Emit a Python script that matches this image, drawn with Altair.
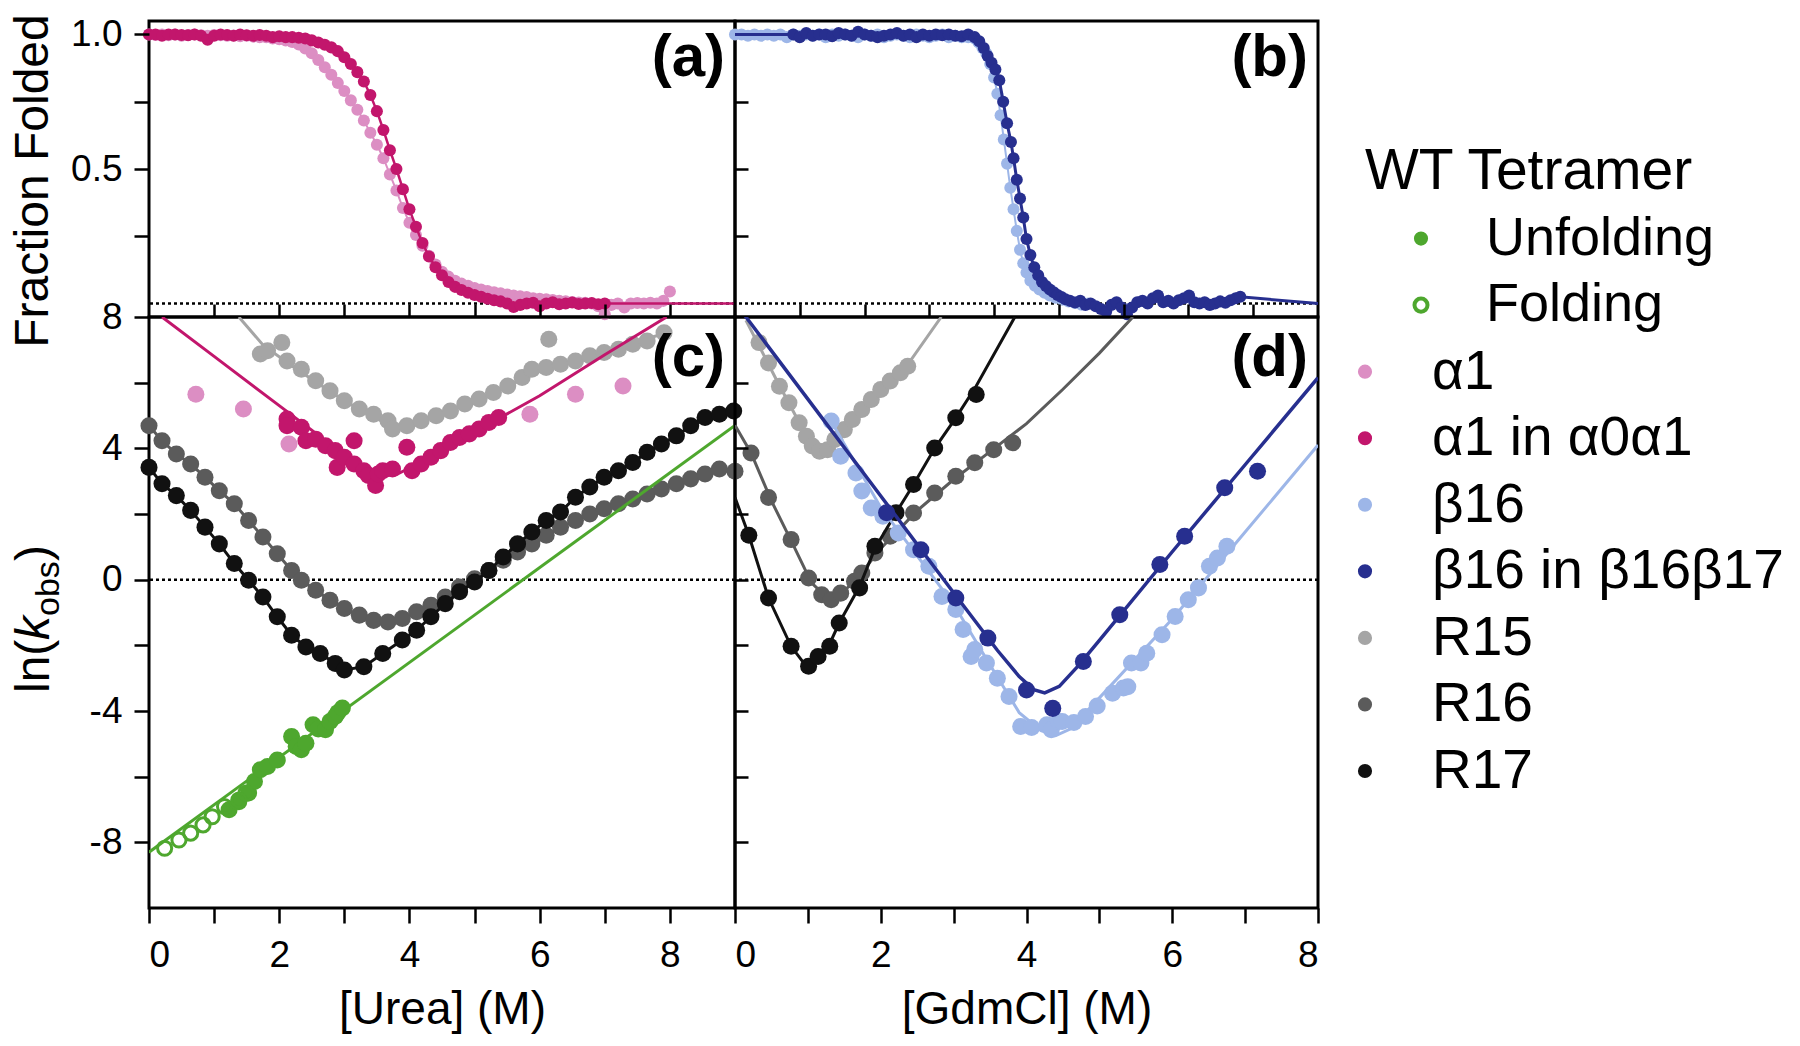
import altair as alt
import pandas as pd

FONT = "Liberation Sans"

# ---------------- colours
C_WT = "#4ea72e"
C_A1 = "#dc8ec3"
C_A1IN = "#c2166c"
C_B16 = "#9db6e8"
C_B16IN = "#272f8f"
C_R15 = "#a5a5a5"
C_R16 = "#5b5b5b"
C_R17 = "#111111"

# ---------------- panel (a): fraction folded vs [Urea]
UREA_GRID = [0.0, 0.1, 0.2, 0.3, 0.4, 0.5, 0.6, 0.7, 0.8, 0.9,
             1.0, 1.1, 1.2, 1.3, 1.4, 1.5, 1.6, 1.7, 1.8, 1.9,
             2.0, 2.1, 2.2, 2.3, 2.4, 2.5, 2.6, 2.7, 2.8, 2.9,
             3.0, 3.1, 3.2, 3.3, 3.4, 3.5, 3.6, 3.7, 3.8, 3.9,
             4.0, 4.1, 4.2, 4.3, 4.4, 4.5, 4.6, 4.7, 4.8, 4.9,
             5.0, 5.1, 5.2, 5.3, 5.4, 5.5, 5.6, 5.7, 5.8, 5.9,
             6.0, 6.1, 6.2, 6.3, 6.4, 6.5, 6.6, 6.7, 6.8, 6.9,
             7.0, 7.1, 7.2, 7.3, 7.4, 7.5, 7.6, 7.7, 7.8, 7.9,
             8.0]
A_A1IN_X = UREA_GRID[:71]
A_A1IN_Y = [1.0, 1.0, 0.995, 1.0, 1.0, 0.998, 0.997, 1.0, 0.995, 0.98,
            0.995, 1.0, 0.998, 0.995, 1.0, 0.997, 0.995, 0.998, 0.995, 0.99,
            0.993, 0.99, 0.99, 0.988, 0.985, 0.978, 0.97, 0.962, 0.952, 0.938,
            0.915, 0.89, 0.86, 0.825, 0.775, 0.715, 0.645, 0.57, 0.5, 0.425,
            0.35, 0.285, 0.225, 0.175, 0.135, 0.105, 0.08, 0.062, 0.05, 0.04,
            0.032, 0.025, 0.018, 0.012, 0.008, 0.0, -0.013, -0.005, 0.0, 0.003,
            -0.01, 0.0, 0.005, -0.003, 0.0, 0.004, -0.002, 0.0, 0.002, -0.003,
            0.0]
A_A1_X = UREA_GRID
A_A1_Y = [1.0, 0.998, 1.0, 0.997, 1.0, 0.995, 0.998, 1.0, 0.997, 0.995,
          0.998, 0.997, 0.995, 0.996, 0.993, 0.995, 0.992, 0.99, 0.99, 0.985,
          0.982, 0.978, 0.972, 0.963, 0.948, 0.93, 0.905, 0.878, 0.85, 0.82,
          0.79, 0.755, 0.72, 0.68, 0.635, 0.59, 0.54, 0.48, 0.42, 0.355,
          0.3, 0.255, 0.215, 0.178, 0.145, 0.118, 0.1, 0.085, 0.074, 0.066,
          0.058, 0.052, 0.047, 0.042, 0.038, 0.034, 0.03, 0.027, 0.024, 0.02,
          0.018, 0.016, 0.013, 0.01, 0.008, 0.006, 0.004, 0.003, 0.0, -0.01,
          -0.04, -0.005, 0.0, -0.015, 0.0, 0.002, 0.0, 0.003, 0.0, 0.01,
          0.045]
A_TAIL_X = [9.0]
A_TAIL_Y = [0.0]

# ---------------- panel (b): fraction folded vs [GdmCl]
B_B16IN_X = [0.9, 1.0, 1.1, 1.2, 1.3, 1.4, 1.5, 1.6, 1.7, 1.8,
             1.9, 2.0, 2.1, 2.2, 2.3, 2.4, 2.5, 2.6, 2.7, 2.8,
             2.9, 3.0, 3.1, 3.2, 3.3, 3.4, 3.5, 3.6, 3.7, 3.77,
             3.84, 3.9, 3.96, 4.02, 4.08, 4.14, 4.2, 4.26, 4.3, 4.35,
             4.4, 4.45, 4.5, 4.56, 4.62, 4.68, 4.74, 4.8, 4.86, 4.92,
             4.98, 5.04, 5.1, 5.17, 5.25, 5.33, 5.41, 5.49, 5.57, 5.65,
             5.73, 5.81, 5.89, 5.97, 6.05, 6.13, 6.21, 6.29, 6.37, 6.45,
             6.53, 6.61, 6.69, 6.77, 6.85, 6.93, 7.01, 7.09, 7.17, 7.25,
             7.33, 7.41, 7.49, 7.57, 7.65, 7.73, 7.8]
B_B16IN_Y = [1.0, 0.99, 1.005, 0.995, 1.0, 1.0, 0.993, 1.005, 1.0, 0.995,
             1.01, 1.0, 0.995, 0.99, 0.995, 1.0, 1.005, 0.995, 1.0, 0.99,
             1.0, 0.995, 1.0, 0.997, 1.0, 0.995, 0.993, 1.0, 0.99, 0.975,
             0.95, 0.92, 0.895, 0.87, 0.83, 0.75, 0.67, 0.6, 0.54, 0.46,
             0.39, 0.32, 0.24, 0.18, 0.135, 0.105, 0.08, 0.065, 0.052, 0.042,
             0.032, 0.024, 0.016, 0.01, 0.004, 0.01, -0.005, 0.0, -0.01, -0.02,
             -0.03, -0.005, 0.005, -0.015, -0.04, -0.015, 0.005, 0.01, 0.0, 0.02,
             0.03, 0.005, 0.01, 0.0, 0.012, 0.02, 0.03, 0.005, 0.0, 0.005,
             -0.005, 0.0, 0.008, 0.003, 0.012, 0.02, 0.025]
B_B16_X = UREA_GRID[:37] + [3.7, 3.76, 3.82, 3.88, 3.94, 4.0, 4.05, 4.1, 4.15, 4.2,
                            4.25, 4.3, 4.35, 4.4, 4.45, 4.5, 4.56, 4.63, 4.7, 4.78,
                            4.86, 4.95, 5.05, 5.15, 5.25, 5.35, 5.45]
B_B16_Y = [1.0, 1.0, 0.995, 1.0, 0.995, 1.0, 0.995, 1.0, 0.99, 1.0,
           0.995, 1.0, 0.995, 1.0, 0.99, 1.0, 0.995, 1.0, 0.995, 0.99,
           1.0, 0.995, 1.0, 0.99, 0.995, 1.0, 0.995, 0.99, 1.0, 0.995,
           0.99, 0.995, 1.0, 0.99, 0.995, 0.99, 0.99,
           0.985, 0.97, 0.95, 0.93, 0.89, 0.84, 0.78, 0.7, 0.61, 0.52,
           0.43, 0.35, 0.27, 0.2, 0.15, 0.115, 0.085, 0.066, 0.052, 0.04,
           0.03, 0.022, 0.014, 0.008, 0.002, -0.004, 0.0]
B_HEAD_X = [0.0]
B_HEAD_Y = [1.0]
B_TAIL_X = [9.0]
B_TAIL_Y = [0.0]

# ---------------- panel (c): ln(k_obs) vs [Urea]
C_A1_X = [0.72, 1.45, 2.15, 5.85, 6.55, 7.28]
C_A1_Y = [5.65, 5.2, 4.13, 5.04, 5.65, 5.9]

C_A1IN_X = [2.12, 2.12, 2.34, 2.41, 2.56, 2.71, 2.86, 2.89, 3.15, 3.0,
            3.15, 3.3, 3.37, 3.48, 3.52, 3.59, 3.74, 3.96, 4.04, 4.18,
            4.33, 4.48, 4.63, 4.77, 4.92, 5.07, 5.22, 5.37]
C_A1IN_Y = [4.89, 4.69, 4.64, 4.23, 4.28, 4.08, 3.93, 3.42, 4.23, 3.73,
            3.52, 3.32, 3.17, 2.87, 3.22, 3.32, 3.37, 4.03, 3.32, 3.52,
            3.73, 3.93, 4.18, 4.33, 4.44, 4.59, 4.79, 4.94]
C_A1IN_FIT_X = [0.2, 1.0, 2.0, 2.8, 3.2, 3.5, 3.8, 4.2, 5.0, 6.0, 7.0, 7.95]
C_A1IN_FIT_Y = [8.0, 6.8, 5.3, 4.1, 3.5, 3.15, 3.2, 3.6, 4.5, 5.6, 6.85, 8.0]

C_R15_X = [1.71, 1.82, 2.04, 2.12, 2.34, 2.56, 2.78, 3.0, 3.23, 3.45,
           3.67, 3.74, 3.96, 4.18, 4.41, 4.63, 4.85, 5.07, 5.29, 5.51,
           5.73, 5.88, 6.1, 6.14, 6.32, 6.55, 6.77, 6.99, 7.21, 7.43,
           7.65, 7.91]
C_R15_Y = [6.87, 6.97, 7.22, 6.66, 6.41, 6.06, 5.75, 5.45, 5.2, 5.04,
           4.84, 4.59, 4.69, 4.84, 4.99, 5.14, 5.35, 5.5, 5.7, 5.9,
           6.16, 6.41, 6.46, 7.32, 6.56, 6.66, 6.82, 6.92, 7.02, 7.17,
           7.27, 7.52]
C_R15_FIT_X = [1.38, 1.75, 2.2, 3.0, 3.5, 3.75, 4.0, 5.0, 6.0, 7.0, 8.0]
C_R15_FIT_Y = [8.0, 7.15, 6.5, 5.45, 4.9, 4.65, 4.7, 5.45, 6.35, 6.95, 7.55]

C_R16_X = [0.0, 0.2, 0.42, 0.64, 0.86, 1.08, 1.31, 1.53, 1.75, 1.97,
           2.19, 2.34, 2.56, 2.78, 3.0, 3.23, 3.45, 3.67, 3.89, 4.11,
           4.33, 4.55, 4.77, 5.0, 5.22, 5.44, 5.66, 5.88, 6.1, 6.32,
           6.55, 6.77, 6.99, 7.21, 7.43, 7.65, 7.87, 8.1, 8.32, 8.54,
           8.76, 9.0]
C_R16_Y = [4.69, 4.23, 3.83, 3.52, 3.12, 2.71, 2.31, 1.8, 1.3, 0.79,
           0.28, -0.02, -0.32, -0.63, -0.88, -1.08, -1.24, -1.29, -1.18, -0.98,
           -0.78, -0.53, -0.22, 0.03, 0.28, 0.59, 0.84, 1.09, 1.35, 1.6,
           1.8, 2.0, 2.16, 2.31, 2.46, 2.61, 2.76, 2.92, 3.07, 3.22,
           3.37, 3.3]

C_R17_X = [0.0, 0.2, 0.42, 0.64, 0.86, 1.08, 1.31, 1.53, 1.75, 1.97,
           2.19, 2.41, 2.63, 2.86, 3.0, 3.3, 3.59, 3.89, 4.11, 4.33,
           4.55, 4.77, 5.0, 5.22, 5.44, 5.66, 5.88, 6.1, 6.32, 6.55,
           6.77, 6.99, 7.21, 7.43, 7.65, 7.87, 8.1, 8.32, 8.54, 8.76,
           8.98]
C_R17_Y = [3.42, 2.92, 2.56, 2.11, 1.6, 1.09, 0.49, -0.02, -0.53, -1.13,
           -1.69, -2.05, -2.25, -2.55, -2.75, -2.65, -2.25, -1.84, -1.54, -1.13,
           -0.73, -0.37, -0.07, 0.28, 0.69, 1.09, 1.45, 1.8, 2.06, 2.51,
           2.82, 3.12, 3.32, 3.57, 3.88, 4.13, 4.38, 4.69, 4.94, 5.04,
           5.14]

C_WTU_X = [1.23, 1.38, 1.53, 1.62, 1.71, 1.82, 1.97, 2.19, 2.26, 2.34,
           2.41, 2.52, 2.6, 2.71, 2.78, 2.86, 2.9, 2.97]
C_WTU_Y = [-7.01, -6.76, -6.5, -6.15, -5.79, -5.69, -5.49, -4.78, -5.08, -5.18,
           -4.98, -4.42, -4.55, -4.57, -4.32, -4.17, -4.05, -3.91]
C_WTF_X = [0.24, 0.46, 0.64, 0.83, 0.97, 1.16, 1.38, 1.49]
C_WTF_Y = [-8.18, -7.93, -7.72, -7.47, -7.22, -6.91, -6.71, -6.5]
C_WT_FIT_X = [0.0, 9.0]
C_WT_FIT_Y = [-8.3, 4.7]

# ---------------- panel (d): ln(k_obs) vs [GdmCl]
D_R15_X = [0.33, 0.46, 0.61, 0.74, 0.88, 0.98, 1.06, 1.16, 1.27, 1.37,
           1.5, 1.61, 1.74, 1.87, 2.0, 2.13, 2.27, 2.37]
D_R15_Y = [7.22, 6.6, 5.89, 5.39, 4.78, 4.37, 4.07, 3.91, 3.96, 4.27,
           4.57, 4.88, 5.18, 5.49, 5.79, 6.05, 6.3, 6.5]
D_R15_FIT_X = [0.15, 0.6, 1.0, 1.2, 1.4, 2.0, 2.37, 2.83]
D_R15_FIT_Y = [7.9, 5.95, 4.3, 3.85, 4.2, 5.65, 6.55, 8.0]

D_R16_X = [0.22, 0.46, 0.77, 1.01, 1.19, 1.32, 1.45, 1.64, 1.74, 1.92,
           2.13, 2.45, 2.74, 3.03, 3.29, 3.55, 3.81]
D_R16_Y = [3.86, 2.5, 1.22, 0.05, -0.46, -0.61, -0.41, -0.05, 0.2, 0.81,
           1.32, 2.03, 2.64, 3.15, 3.56, 3.96, 4.17]
D_R16_FIT_X = [0.0, 0.22, 0.5, 0.8, 1.05, 1.3, 1.5, 1.75, 2.0, 2.5,
               3.0, 3.5, 4.0, 4.5, 5.0, 5.46]
D_R16_FIT_Y = [4.7, 3.86, 2.4, 1.05, -0.1, -0.62, -0.35, 0.25, 0.95, 2.1,
               3.05, 3.9, 4.75, 5.8, 6.9, 8.0]

D_R17_X = [0.19, 0.46, 0.77, 1.01, 1.14, 1.3, 1.43, 1.71, 1.92, 2.21,
           2.45, 2.74, 3.03, 3.31]
D_R17_Y = [1.35, -0.56, -2.03, -2.64, -2.34, -2.03, -1.32, -0.25, 1.02, 2.04,
           2.9, 4.01, 4.93, 5.64]
D_R17_FIT_X = [0.0, 0.19, 0.46, 0.77, 1.0, 1.15, 1.3, 1.43, 1.71, 1.92,
               2.21, 2.45, 2.74, 3.03, 3.31, 3.84]
D_R17_FIT_Y = [2.5, 1.35, -0.56, -2.03, -2.7, -2.35, -1.95, -1.32, -0.2, 0.95,
               2.04, 2.9, 4.0, 4.93, 5.9, 8.0]

D_B16_X = [1.32, 1.45, 1.66, 1.74, 1.87, 2.03, 2.24, 2.45, 2.66, 2.84,
           3.03, 3.13, 3.24, 3.29, 3.45, 3.6, 3.76, 3.92, 4.07, 4.28,
           4.34, 4.44, 4.49, 4.65, 4.81, 4.97, 5.18, 5.33, 5.39, 5.44,
           5.57, 5.65, 5.86, 6.04, 6.22, 6.36, 6.51, 6.62, 6.75]
D_B16_Y = [4.83, 3.76, 3.25, 2.7, 2.18, 1.93, 1.42, 0.91, 0.41, -0.51,
           -0.91, -1.52, -2.34, -2.13, -2.54, -3.0, -3.56, -4.47, -4.5, -4.42,
           -4.57, -4.32, -4.32, -4.35, -4.17, -3.85, -3.46, -3.3, -3.26, -2.54,
           -2.54, -2.24, -1.68, -1.12, -0.61, -0.25, 0.41, 0.66, 1.02]
D_B16_FIT_X = [1.3, 2.0, 3.0, 3.5, 3.9, 4.2, 4.4, 4.6, 5.0, 6.0, 7.0, 8.0]
D_B16_FIT_Y = [4.9, 2.2, -0.75, -2.6, -4.05, -4.6, -4.75, -4.55, -3.6, -1.2, 1.45, 4.1]

D_B16IN_X = [2.08, 2.55, 3.03, 3.47, 4.0, 4.36, 4.78, 5.28, 5.83, 6.17, 6.72, 7.17]
D_B16IN_Y = [2.04, 0.91, -0.56, -1.78, -3.36, -3.92, -2.49, -1.07, 0.46, 1.32, 2.8, 3.3]
D_B16IN_FIT_X = [0.14, 1.0, 2.0, 3.0, 3.6, 3.9, 4.1, 4.25, 4.45, 4.7, 5.0, 6.0, 7.0, 8.0]
D_B16IN_FIT_Y = [8.03, 5.5, 2.55, -0.4, -2.15, -2.95, -3.35, -3.45, -3.25, -2.65, -1.85, 0.85, 3.5, 6.15]

# ---------------- tick values and legend
UREA_TICKS = [0, 1, 2, 3, 4, 5, 6, 7, 8]
GDM_TICKS = [0, 1, 2, 3, 4, 5, 6, 7, 8]
INNER_X_TICKS = [1, 2, 3, 4, 5, 6, 7, 8]
FRAC_TICKS = [0.25, 0.5, 0.75, 1.0]
FRAC_INNER_TICKS = [0.25, 0.5, 0.75]
LNK_TICKS = [-8, -6, -4, -2, 0, 2, 4, 6, 8]
LNK_INNER_TICKS = [-8, -6, -4, -2, 0, 2, 4, 6]

LEG_ORDER = ["WT Tetramer", "Unfolding", "Folding", "α1", "α1 in α0α1", "β16",
             "β16 in β16β17", "R15", "R16", "R17"]
LEG_SPECIES = ["α1", "α1 in α0α1", "β16", "β16 in β16β17", "R15", "R16", "R17"]
LEG_COLORS = [C_A1, C_A1IN, C_B16, C_B16IN, C_R15, C_R16, C_R17]

# ---------------- sizes
WL, WR = 586, 583
HT, HB = 296, 591
S_SMALL = 145
S_BIG = 290


def frame(x, y):
    return pd.DataFrame(list(zip(x, y)), columns=["x", "y"])


def pts(x, y, color, size, X, Y):
    return alt.Chart(frame(x, y)).mark_circle(color=color, size=size, opacity=1).encode(x=X, y=Y)


def open_pts(x, y, color, size, X, Y):
    return alt.Chart(frame(x, y)).mark_point(
        color=color, size=size, filled=False, strokeWidth=3, opacity=1
    ).encode(x=X, y=Y)


def line(x, y, color, width, X, Y):
    return alt.Chart(frame(x, y)).mark_line(
        color=color, strokeWidth=width, clip=True
    ).encode(x=X, y=Y)


def zero_rule(Y):
    return alt.Chart(pd.DataFrame({"y": [0.0]})).mark_rule(
        color="black", strokeDash=[3, 3], strokeWidth=2.5
    ).encode(y=Y)


def label(text, w, y=8):
    return alt.Chart(pd.DataFrame({"t": [text]})).mark_text(
        font=FONT, fontSize=60, fontWeight="bold", align="right", baseline="top", color="black"
    ).encode(text="t:N", x=alt.value(w - 10), y=alt.value(y))


def rot_text(text, x, y, size, style="normal", align="left"):
    return alt.Chart(pd.DataFrame({"t": [text]})).mark_text(
        font=FONT, fontSize=size, fontStyle=style, angle=270, align=align,
        baseline="alphabetic", color="black"
    ).encode(text="t:N", x=alt.value(x), y=alt.value(y))


def sc(domain):
    return alt.Scale(domain=domain, nice=False, zero=False)


AX = dict(domain=False, grid=False, tickColor="black", tickWidth=2.5, zindex=1,
          labelFont=FONT, labelColor="black", labelFontSize=37,
          titleFont=FONT, titleColor="black", titleFontWeight="normal", titleFontSize=46)


def inner_axis(values):
    return alt.Axis(values=values, labels=False, title=None, tickSize=13, offset=-13, **AX)


# ---------------- panel (a)
XA = alt.X("x:Q", scale=sc([0, 9]), axis=inner_axis(INNER_X_TICKS))
YA = alt.Y("y:Q", scale=sc([-0.05, 1.05]), axis=alt.Axis(
    values=FRAC_TICKS, title=None, tickSize=15, labelPadding=12,
    labelExpr="datum.value == 0.5 || datum.value == 1 ? format(datum.value, '.1f') : ''", **AX))
panel_a = alt.layer(
    zero_rule(YA),
    line(A_A1_X, A_A1_Y, C_A1, 2, XA, YA),
    pts(A_A1_X, A_A1_Y, C_A1, S_SMALL, XA, YA),
    line(A_A1IN_X + A_TAIL_X, A_A1IN_Y + A_TAIL_Y, C_A1IN, 2.5, XA, YA),
    pts(A_A1IN_X, A_A1IN_Y, C_A1IN, S_SMALL, XA, YA),
    rot_text("Fraction Folded", -101, 160, 48, align="center"),
    label("(a)", WL),
).properties(width=WL, height=HT)

# ---------------- panel (b)
XB = alt.X("x:Q", scale=sc([0, 9]), axis=inner_axis(INNER_X_TICKS))
YB = alt.Y("y:Q", scale=sc([-0.05, 1.05]), axis=inner_axis(FRAC_INNER_TICKS))
panel_b = alt.layer(
    zero_rule(YB),
    line(B_B16_X, B_B16_Y, C_B16, 2, XB, YB),
    pts(B_B16_X, B_B16_Y, C_B16, S_SMALL, XB, YB),
    line(B_HEAD_X + B_B16IN_X + B_TAIL_X, B_HEAD_Y + B_B16IN_Y + B_TAIL_Y, C_B16IN, 3, XB, YB),
    pts(B_B16IN_X, B_B16IN_Y, C_B16IN, S_SMALL, XB, YB),
    label("(b)", WR),
).properties(width=WR, height=HT)

# ---------------- panel (c)
XC = alt.X("x:Q", scale=sc([0, 9]), axis=alt.Axis(
    values=UREA_TICKS, title="[Urea] (M)", tickSize=15, labelPadding=14, titlePadding=14,
    labelExpr="datum.value % 2 == 0 ? datum.label : ''", **AX))
YC = alt.Y("y:Q", scale=sc([-10, 8]), axis=alt.Axis(
    values=LNK_TICKS, title=None, tickSize=15, labelPadding=12,
    labelExpr="datum.value % 4 == 0 ? '' + datum.value : ''", **AX))
panel_c = alt.layer(
    zero_rule(YC),
    pts(C_A1_X, C_A1_Y, C_A1, S_BIG, XC, YC),
    line(C_R15_FIT_X, C_R15_FIT_Y, C_R15, 3, XC, YC),
    pts(C_R15_X, C_R15_Y, C_R15, S_BIG, XC, YC),
    line(C_R16_X, C_R16_Y, C_R16, 3, XC, YC),
    pts(C_R16_X, C_R16_Y, C_R16, S_BIG, XC, YC),
    line(C_R17_X, C_R17_Y, C_R17, 3, XC, YC),
    pts(C_R17_X, C_R17_Y, C_R17, S_BIG, XC, YC),
    line(C_A1IN_FIT_X, C_A1IN_FIT_Y, C_A1IN, 3, XC, YC),
    pts(C_A1IN_X, C_A1IN_Y, C_A1IN, S_BIG, XC, YC),
    line(C_WT_FIT_X, C_WT_FIT_Y, C_WT, 3, XC, YC),
    pts(C_WTU_X, C_WTU_Y, C_WT, S_BIG, XC, YC),
    open_pts(C_WTF_X, C_WTF_Y, C_WT, 200, XC, YC),
    rot_text("ln(", -100, 376, 48),
    rot_text("k", -100, 323, 48, style="italic"),
    rot_text("obs", -90, 299, 34),
    rot_text(")", -100, 244, 48),
    label("(c)", WL, 12),
).properties(width=WL, height=HB)

# ---------------- panel (d)
XD = alt.X("x:Q", scale=sc([0, 8]), axis=alt.Axis(
    values=GDM_TICKS, title="[GdmCl] (M)", tickSize=15, labelPadding=14, titlePadding=14,
    labelExpr="datum.value % 2 == 0 ? datum.label : ''", **AX))
YD = alt.Y("y:Q", scale=sc([-10, 8]), axis=inner_axis(LNK_INNER_TICKS))
panel_d = alt.layer(
    zero_rule(YD),
    line(D_R15_FIT_X, D_R15_FIT_Y, C_R15, 3, XD, YD),
    pts(D_R15_X, D_R15_Y, C_R15, S_BIG, XD, YD),
    line(D_R16_FIT_X, D_R16_FIT_Y, C_R16, 3, XD, YD),
    pts(D_R16_X, D_R16_Y, C_R16, S_BIG, XD, YD),
    line(D_R17_FIT_X, D_R17_FIT_Y, C_R17, 3, XD, YD),
    pts(D_R17_X, D_R17_Y, C_R17, S_BIG, XD, YD),
    line(D_B16_FIT_X, D_B16_FIT_Y, C_B16, 3, XD, YD),
    pts(D_B16_X, D_B16_Y, C_B16, S_BIG, XD, YD),
    line(D_B16IN_FIT_X, D_B16IN_FIT_Y, C_B16IN, 3.5, XD, YD),
    pts(D_B16IN_X, D_B16IN_Y, C_B16IN, S_BIG, XD, YD),
    label("(d)", WR, 12),
).properties(width=WR, height=HB)

# ---------------- legend (drawn to the right of panel b, spilling down beside panel d)
LY = alt.Y("label:N", scale=alt.Scale(type="point", domain=LEG_ORDER, range=[151, 750], padding=0), axis=None)
leg_head = alt.Chart(pd.DataFrame({"label": ["WT Tetramer"]})).mark_text(
    font=FONT, fontSize=57, align="left", baseline="middle", color="black"
).encode(text="label:N", y=LY, x=alt.value(47))
leg_wt_text = alt.Chart(pd.DataFrame({"label": ["Unfolding", "Folding"]})).mark_text(
    font=FONT, fontSize=54, align="left", baseline="middle", color="black"
).encode(text="label:N", y=LY, x=alt.value(168))
leg_wt_u = alt.Chart(pd.DataFrame({"label": ["Unfolding"]})).mark_circle(
    color=C_WT, size=200, opacity=1).encode(y=LY, x=alt.value(103))
leg_wt_f = alt.Chart(pd.DataFrame({"label": ["Folding"]})).mark_point(
    color=C_WT, size=170, filled=False, strokeWidth=4, opacity=1).encode(y=LY, x=alt.value(103))
leg_sp_dots = alt.Chart(pd.DataFrame({"label": LEG_SPECIES})).mark_circle(size=200, opacity=1).encode(
    y=LY, x=alt.value(47),
    color=alt.Color("label:N", scale=alt.Scale(domain=LEG_SPECIES, range=LEG_COLORS), legend=None))
leg_sp_text = alt.Chart(pd.DataFrame({"label": LEG_SPECIES})).mark_text(
    font=FONT, fontSize=55, align="left", baseline="middle", color="black"
).encode(text="label:N", y=LY, x=alt.value(114))
legend = alt.layer(leg_head, leg_wt_text, leg_wt_u, leg_wt_f, leg_sp_dots, leg_sp_text).properties(
    width=455, height=HT, view=alt.ViewBackground(stroke="transparent"))

chart = alt.concat(
    panel_a, panel_b, legend, panel_c, panel_d,
    columns=3, spacing=0, bounds="flush",
).properties(
    padding={"left": 0, "top": 4, "right": 0, "bottom": 0}, background="white"
).configure_view(stroke="black", strokeWidth=3)

chart.save("out.html", embed_options={"renderer": "svg", "actions": False})
